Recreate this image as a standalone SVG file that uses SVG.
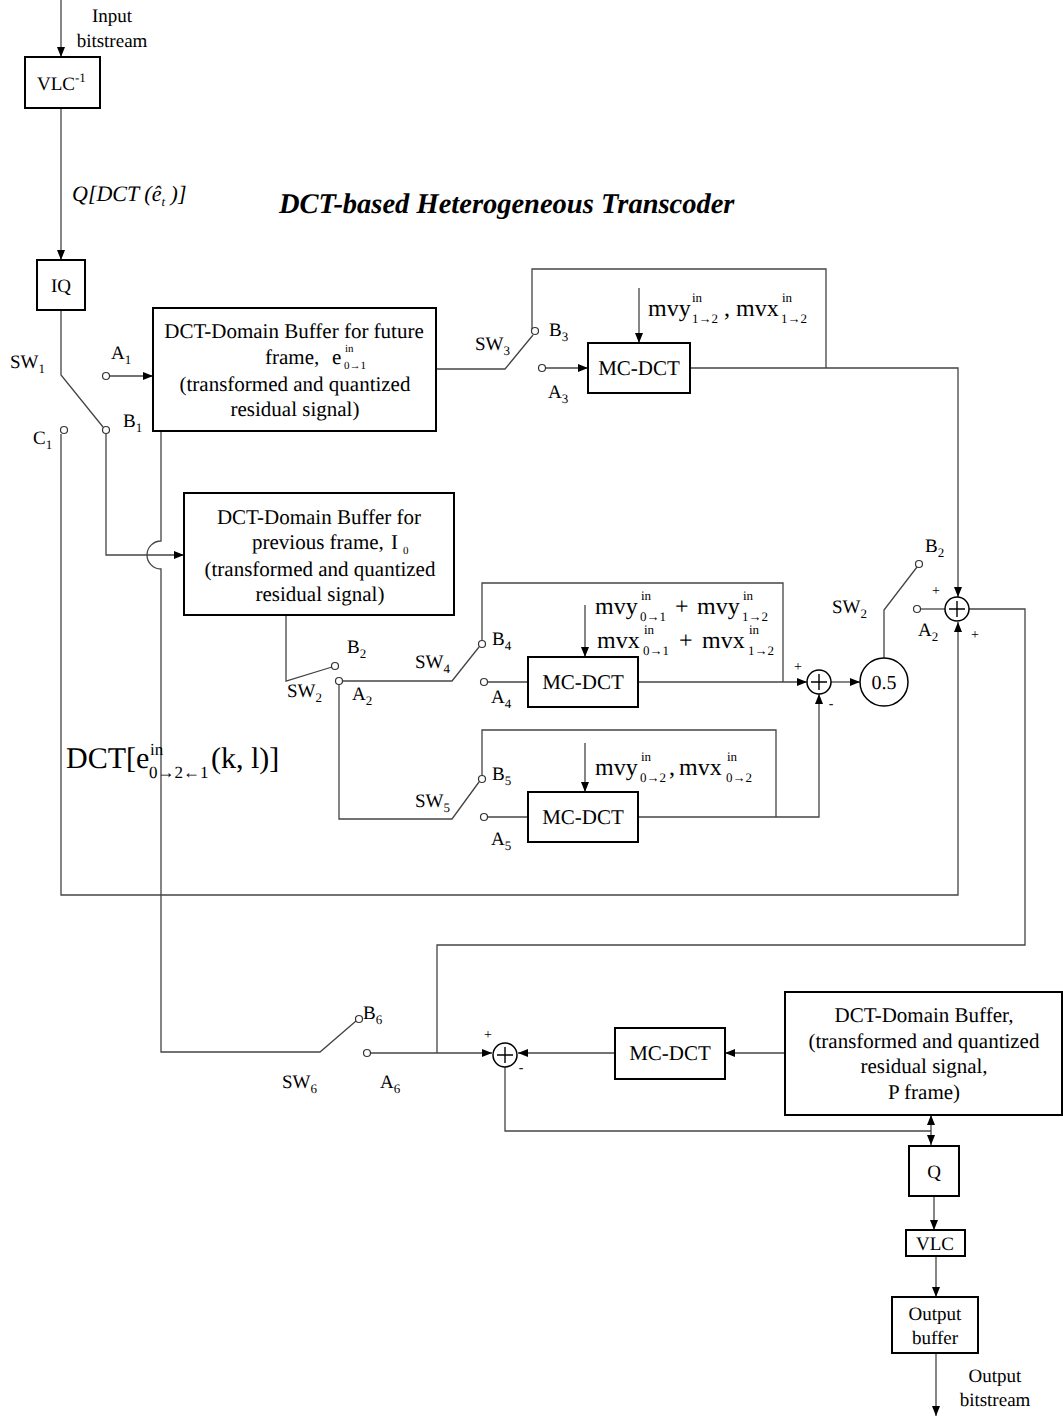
<svg xmlns="http://www.w3.org/2000/svg" width="1063" height="1417" viewBox="0 0 1063 1417">
<style>
text{text-rendering:geometricPrecision}
.t{font-family:"Liberation Serif","Times New Roman",serif;font-size:21px;fill:#000}
.s{font-size:13px}
.xs{font-size:11px}
.c{text-anchor:middle}
.box{fill:#fff;stroke:#000;stroke-width:2}
.ln{fill:none;stroke:#444;stroke-width:1.3}
.term{fill:#fff;stroke:#333;stroke-width:1.2}
.sum{fill:#fff;stroke:#000;stroke-width:1.5}
.pl{fill:none;stroke:#000;stroke-width:1.4}
.sg{font-family:"Liberation Serif","Times New Roman",serif;font-size:14px;fill:#000;text-anchor:middle}
</style>
<defs>
<marker id="ar" viewBox="0 0 10 8" refX="10" refY="4" markerWidth="10" markerHeight="8" markerUnits="userSpaceOnUse" orient="auto-start-reverse">
<path d="M0,0 L10,4 L0,8 Z" fill="#000"/>
</marker>
</defs>
<rect width="1063" height="1417" fill="#fff"/>

<text x="279" y="213" class="t" style="font-size:28.5px;font-weight:bold;font-style:italic">DCT-based Heterogeneous Transcoder</text>

<g id="connectors">
<path class="ln" d="M61,0 V57" marker-end="url(#ar)"/>
<path class="ln" d="M61,108 V260" marker-end="url(#ar)"/>
<path class="ln" d="M61,310 V375 L103,427"/>
<path class="ln" d="M110,376 H153" marker-end="url(#ar)"/>
<path class="ln" d="M106,434 V555 H184" marker-end="url(#ar)"/>
<path class="ln" d="M61,434 V895 H958 V622" marker-end="url(#ar)"/>
<path class="ln" d="M161,431 V541 A14,14 0 0 0 161,569 V1052 H320 L356,1021"/>
<path class="ln" d="M436,369 H505 L533,335"/>
<path class="ln" d="M532,329 V269 H826 V368"/>
<path class="ln" d="M545,368 H588" marker-end="url(#ar)"/>
<path class="ln" d="M639,288 V343" marker-end="url(#ar)"/>
<path class="ln" d="M690,368 H958 V597" marker-end="url(#ar)"/>
<path class="ln" d="M286,615 V681 L332,667"/>
<path class="ln" d="M342,681 H452 L479,647"/>
<path class="ln" d="M339,684 V819 H452 L479,782"/>
<path class="ln" d="M482,641 V583 H783 V682"/>
<path class="ln" d="M487,682 H528"/>
<path class="ln" d="M585,605 V657" marker-end="url(#ar)"/>
<path class="ln" d="M638,682 H807" marker-end="url(#ar)"/>
<path class="ln" d="M482,776 V730 H776 V817"/>
<path class="ln" d="M487,817 H528"/>
<path class="ln" d="M585,743 V792" marker-end="url(#ar)"/>
<path class="ln" d="M638,817 H819 V694" marker-end="url(#ar)"/>
<path class="ln" d="M831,682 H860" marker-end="url(#ar)"/>
<path class="ln" d="M884,658 V610 L917,567"/>
<path class="ln" d="M920,609 H945"/>
<path class="ln" d="M969,609 H1025 V945 H437 V1053"/>
<path class="ln" d="M371,1053 H492" marker-end="url(#ar)"/>
<path class="ln" d="M784,1053 H725" marker-end="url(#ar)"/>
<path class="ln" d="M615,1053 H518" marker-end="url(#ar)"/>
<path class="ln" d="M505,1067 V1131 H931"/>
<path class="ln" d="M931,1115 V1145" marker-start="url(#ar)" marker-end="url(#ar)"/>
<path class="ln" d="M934,1196 V1230" marker-end="url(#ar)"/>
<path class="ln" d="M936,1256 V1297" marker-end="url(#ar)"/>
<path class="ln" d="M936,1353 V1416" marker-end="url(#ar)"/>
</g>

<g id="input-label">
<text class="t c" x="112" y="22" style="font-size:19px">Input</text>
<text class="t c" x="112" y="47" style="font-size:19px">bitstream</text>
</g>

<g id="vlc-inv">
<rect class="box" x="25" y="57" width="75" height="51"/>
<text class="t" x="37" y="90" style="font-size:19px">VLC<tspan class="s" dy="-8">-1</tspan></text>
</g>

<g id="q-label">
<text class="t" x="72" y="201" style="font-style:italic;font-size:22px">Q[DCT (ê<tspan class="s" dy="5">t</tspan><tspan dy="-5"> )]</tspan></text>
</g>

<g id="iq">
<rect class="box" x="37" y="260" width="48" height="50"/>
<text class="t c" x="61" y="292" style="font-size:19px">IQ</text>
</g>

<g id="sw1">
<text class="t" x="10" y="368" style="font-size:19px">SW<tspan class="s" dy="5">1</tspan></text>
<text class="t" x="111" y="359" style="font-size:19px">A<tspan class="s" dy="5">1</tspan></text>
<text class="t" x="123" y="427" style="font-size:19px">B<tspan class="s" dy="5">1</tspan></text>
<text class="t" x="33" y="444" style="font-size:19px">C<tspan class="s" dy="5">1</tspan></text>
<circle class="term" cx="106" cy="376" r="3.5"/>
<circle class="term" cx="106" cy="430" r="3.5"/>
<circle class="term" cx="64" cy="430" r="3.5"/>
</g>

<g id="buffer-future">
<rect class="box" x="153" y="308" width="283" height="123"/>
<text class="t c" x="294" y="338">DCT-Domain Buffer for future</text>
<text class="t" x="265" y="364">frame,</text>
<text class="t" x="332" y="364">e</text>
<text class="t xs" x="345" y="352">in</text>
<text class="t xs" x="344" y="369">0→1</text>
<text class="t c" x="295" y="391">(transformed and quantized</text>
<text class="t c" x="295" y="416">residual signal)</text>
</g>

<g id="sw3">
<text class="t" x="475" y="350" style="font-size:19px">SW<tspan class="s" dy="5">3</tspan></text>
<text class="t" x="549" y="336" style="font-size:19px">B<tspan class="s" dy="5">3</tspan></text>
<text class="t" x="548" y="398" style="font-size:19px">A<tspan class="s" dy="5">3</tspan></text>
<circle class="term" cx="535" cy="331" r="3.5"/>
<circle class="term" cx="542" cy="368" r="3.5"/>
</g>

<g id="mv-top">
<text class="t" x="648" y="316" style="font-size:24px">mvy</text>
<text class="t s" x="692" y="302">in</text>
<text class="t s" x="692" y="323">1→2</text>
<text class="t" x="724" y="316" style="font-size:24px">,</text>
<text class="t" x="736" y="316" style="font-size:24px">mvx</text>
<text class="t s" x="782" y="302">in</text>
<text class="t s" x="781" y="323">1→2</text>
</g>

<g id="mcdct-top">
<rect class="box" x="588" y="343" width="102" height="50"/>
<text class="t c" x="639" y="375">MC-DCT</text>
</g>

<g id="buffer-previous">
<rect class="box" x="184" y="493" width="270" height="122"/>
<text class="t c" x="319" y="524">DCT-Domain Buffer for</text>
<text class="t" x="252" y="549">previous frame,</text>
<text class="t" x="391" y="549">I</text>
<text class="t xs" x="403" y="554">0</text>
<text class="t c" x="320" y="576">(transformed and quantized</text>
<text class="t c" x="320" y="601">residual signal)</text>
</g>

<g id="dct-label">
<text class="t" x="66" y="768" style="font-size:30px">DCT[e</text>
<text class="t" x="150" y="755" style="font-size:17px">in</text>
<text class="t" x="149" y="778" style="font-size:17px">0→2←1</text>
<text class="t" x="211" y="768" style="font-size:30px">(k, l)]</text>
</g>

<g id="sw2-left">
<text class="t" x="287" y="697" style="font-size:19px">SW<tspan class="s" dy="5">2</tspan></text>
<text class="t" x="347" y="653" style="font-size:19px">B<tspan class="s" dy="5">2</tspan></text>
<text class="t" x="352" y="700" style="font-size:19px">A<tspan class="s" dy="5">2</tspan></text>
<circle class="term" cx="335" cy="666" r="3.5"/>
<circle class="term" cx="339" cy="681" r="3.5"/>
</g>

<g id="sw4">
<text class="t" x="415" y="668" style="font-size:19px">SW<tspan class="s" dy="5">4</tspan></text>
<text class="t" x="492" y="645" style="font-size:19px">B<tspan class="s" dy="5">4</tspan></text>
<text class="t" x="491" y="703" style="font-size:19px">A<tspan class="s" dy="5">4</tspan></text>
<circle class="term" cx="482" cy="644" r="3.5"/>
<circle class="term" cx="484" cy="682" r="3.5"/>
</g>

<g id="mv-mid">
<text class="t" x="595" y="614" style="font-size:24px">mvy</text>
<text class="t s" x="641" y="600">in</text>
<text class="t s" x="640" y="621">0→1</text>
<text class="t" x="675" y="614" style="font-size:24px">+</text>
<text class="t" x="697" y="614" style="font-size:24px">mvy</text>
<text class="t s" x="743" y="600">in</text>
<text class="t s" x="742" y="621">1→2</text>
<text class="t" x="597" y="648" style="font-size:24px">mvx</text>
<text class="t s" x="644" y="634">in</text>
<text class="t s" x="643" y="655">0→1</text>
<text class="t" x="679" y="648" style="font-size:24px">+</text>
<text class="t" x="702" y="648" style="font-size:24px">mvx</text>
<text class="t s" x="749" y="634">in</text>
<text class="t s" x="748" y="655">1→2</text>
</g>

<g id="mcdct-mid">
<rect class="box" x="528" y="657" width="110" height="50"/>
<text class="t c" x="583" y="689">MC-DCT</text>
</g>

<g id="sw5">
<text class="t" x="415" y="807" style="font-size:19px">SW<tspan class="s" dy="5">5</tspan></text>
<text class="t" x="492" y="780" style="font-size:19px">B<tspan class="s" dy="5">5</tspan></text>
<text class="t" x="491" y="845" style="font-size:19px">A<tspan class="s" dy="5">5</tspan></text>
<circle class="term" cx="482" cy="779" r="3.5"/>
<circle class="term" cx="484" cy="817" r="3.5"/>
</g>

<g id="mv-low">
<text class="t" x="595" y="775" style="font-size:24px">mvy</text>
<text class="t s" x="641" y="761">in</text>
<text class="t s" x="640" y="782">0→2</text>
<text class="t" x="669" y="775" style="font-size:24px">,</text>
<text class="t" x="679" y="775" style="font-size:24px">mvx</text>
<text class="t s" x="727" y="761">in</text>
<text class="t s" x="726" y="782">0→2</text>
</g>

<g id="mcdct-low">
<rect class="box" x="528" y="792" width="110" height="50"/>
<text class="t c" x="583" y="824">MC-DCT</text>
</g>

<g id="sum-mid">
<circle class="sum" cx="819" cy="682" r="12"/>
<path class="pl" d="M811,682 H827 M819,674 V690"/>
<text class="sg" x="798" y="671">+</text>
<text class="sg" x="831" y="708">-</text>
</g>

<g id="half">
<circle class="sum" cx="884" cy="682" r="24"/>
<text class="t c" x="884" y="689" style="font-size:20px">0.5</text>
</g>

<g id="sw2-right">
<text class="t" x="832" y="613" style="font-size:19px">SW<tspan class="s" dy="5">2</tspan></text>
<text class="t" x="925" y="552" style="font-size:19px">B<tspan class="s" dy="5">2</tspan></text>
<text class="t" x="918" y="636" style="font-size:19px">A<tspan class="s" dy="5">2</tspan></text>
<circle class="term" cx="919" cy="564" r="3.5"/>
<circle class="term" cx="917" cy="609" r="3.5"/>
</g>

<g id="sum-top">
<circle class="sum" cx="957" cy="609" r="12"/>
<path class="pl" d="M949,609 H965 M957,601 V617"/>
<text class="sg" x="936" y="595">+</text>
<text class="sg" x="975" y="639">+</text>
</g>

<g id="sw6">
<text class="t" x="282" y="1088" style="font-size:19px">SW<tspan class="s" dy="5">6</tspan></text>
<text class="t" x="363" y="1019" style="font-size:19px">B<tspan class="s" dy="5">6</tspan></text>
<text class="t" x="380" y="1088" style="font-size:19px">A<tspan class="s" dy="5">6</tspan></text>
<circle class="term" cx="359" cy="1019" r="3.5"/>
<circle class="term" cx="367" cy="1053" r="3.5"/>
</g>

<g id="sum-bottom">
<circle class="sum" cx="505" cy="1055" r="12"/>
<path class="pl" d="M497,1055 H513 M505,1047 V1063"/>
<text class="sg" x="488" y="1039">+</text>
<text class="sg" x="521" y="1072">-</text>
</g>

<g id="mcdct-bottom">
<rect class="box" x="615" y="1028" width="110" height="51"/>
<text class="t c" x="670" y="1060">MC-DCT</text>
</g>

<g id="buffer-p">
<rect class="box" x="785" y="992" width="277" height="123"/>
<text class="t c" x="924" y="1022">DCT-Domain Buffer,</text>
<text class="t c" x="924" y="1048">(transformed and quantized</text>
<text class="t c" x="924" y="1073">residual signal,</text>
<text class="t c" x="924" y="1099">P frame)</text>
</g>

<g id="q">
<rect class="box" x="909" y="1146" width="50" height="50"/>
<text class="t c" x="934" y="1178" style="font-size:19px">Q</text>
</g>

<g id="vlc">
<rect class="box" x="906" y="1230" width="59" height="26"/>
<text class="t c" x="935" y="1250" style="font-size:19px">VLC</text>
</g>

<g id="output-buffer">
<rect class="box" x="892" y="1297" width="86" height="56"/>
<text class="t c" x="935" y="1320" style="font-size:19px">Output</text>
<text class="t c" x="935" y="1344" style="font-size:19px">buffer</text>
</g>

<g id="output-label">
<text class="t c" x="995" y="1382" style="font-size:19px">Output</text>
<text class="t c" x="995" y="1406" style="font-size:19px">bitstream</text>
</g>
</svg>
